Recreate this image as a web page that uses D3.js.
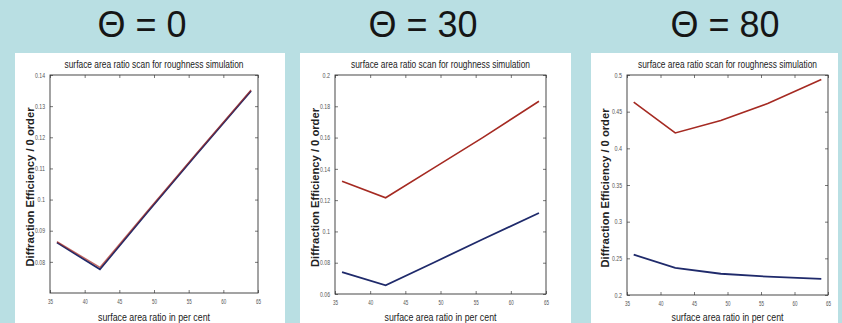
<!DOCTYPE html>
<html><head><meta charset="utf-8">
<script src="https://cdn.jsdelivr.net/npm/d3@7"></script>
<style>
html,body{margin:0;padding:0;background:#b9dfe3;}
svg{display:block;}
</style></head>
<body>
<svg id="c" width="842" height="323"></svg>
<script>
// ---- data ----
const headings = ["Θ = 0", "Θ = 30", "Θ = 80"];
const chartTitle = "surface area ratio scan for roughness simulation";
const xLabel = "surface area ratio in per cent";
const yLabel = "Diffraction Efficiency / 0 order";
const xValues = [36, 42.2, 49, 56, 64];
const xTicks = [35, 40, 45, 50, 55, 60, 65];

const red0 = [0.0865, 0.0782, 0.0962, 0.1145, 0.1352];
const blue0 = [0.0862, 0.0776, 0.0958, 0.1142, 0.1349];
const yTicks0 = [0.08, 0.09, 0.10, 0.11, 0.12, 0.13, 0.14];
const yDomain0 = [0.07, 0.14];

const red30 = [0.1320, 0.1215, 0.1405, 0.1600, 0.1832];
const blue30 = [0.0740, 0.0655, 0.0800, 0.0950, 0.1118];
const yTicks30 = [0.06, 0.08, 0.10, 0.12, 0.14, 0.16, 0.18, 0.20];
const yDomain30 = [0.06, 0.20];

const red80 = [0.463, 0.421, 0.438, 0.461, 0.494];
const blue80 = [0.255, 0.237, 0.229, 0.225, 0.222];
const yTicks80 = [0.20, 0.25, 0.30, 0.35, 0.40, 0.45, 0.50];
const yDomain80 = [0.20, 0.50];

const panels = [
  {head: headings[0], hx: 142, box:[15,53,285,323], plot:[50,75,258,293], labX:30,
   red: red0, blue: blue0, yt: yTicks0, yd: yDomain0, merged:true},
  {head: headings[1], hx: 423, box:[300,53,571,323], plot:[335,75,546,294], labX:315,
   red: red30, blue: blue30, yt: yTicks30, yd: yDomain30},
  {head: headings[2], hx: 725, box:[591,53,838,323], plot:[627,75,828,295], labX:605,
   red: red80, blue: blue80, yt: yTicks80, yd: yDomain80}
];

const svg = d3.select("#c");
const sans = "'Liberation Sans',Arial,sans-serif";
const fmt = v => String(+v.toFixed(3));

panels.forEach(p => {
  svg.append("text").attr("x", p.hx).attr("y", 37)
    .attr("text-anchor","middle").attr("font-family",sans)
    .attr("font-size", 36).attr("fill","#151515").text(p.head);

  svg.append("rect").attr("x",p.box[0]).attr("y",p.box[1])
    .attr("width",p.box[2]-p.box[0]).attr("height",p.box[3]-p.box[1]).attr("fill","#fff");

  const [l,t,r,b] = p.plot;
  const x = d3.scaleLinear().domain([35,65]).range([l,r]);
  const y = d3.scaleLinear().domain(p.yd).range([b,t]);

  const ax = (axis, tr) => {
    const gg = svg.append("g").attr("transform", tr).call(axis);
    gg.select(".domain").remove();
    gg.selectAll("line").attr("stroke","#555").attr("stroke-width",0.8);
    gg.selectAll("text").attr("font-family",sans).attr("font-size",7).attr("fill","#555")
      .each(function(){ const s=this.textContent; if(s) d3.select(this).attr("textLength", s.length*2.5).attr("lengthAdjust","spacingAndGlyphs"); });
    return gg;
  };
  ax(d3.axisBottom(x).tickValues(xTicks).tickSize(-3).tickPadding(6).tickFormat(d3.format("d")), `translate(0,${b})`);
  ax(d3.axisTop(x).tickValues(xTicks).tickSize(-3).tickFormat(""), `translate(0,${t})`);
  ax(d3.axisLeft(y).tickValues(p.yt).tickSize(-3).tickPadding(5).tickFormat(fmt), `translate(${l},0)`);
  ax(d3.axisRight(y).tickValues(p.yt).tickSize(-3).tickFormat(""), `translate(${r},0)`);

  svg.append("rect").attr("x",l).attr("y",t).attr("width",r-l).attr("height",b-t)
    .attr("fill","none").attr("stroke","#333").attr("stroke-width",0.9);

  const line = d3.line().x((d,i)=>x(xValues[i])).y(d=>y(d));
  svg.append("path").datum(p.blue).attr("d",line).attr("fill","none")
    .attr("stroke","#1f2a6b").attr("stroke-width",1.8);
  svg.append("path").datum(p.red).attr("d",line).attr("fill","none")
    .attr("stroke", "#a52a22").attr("stroke-width", p.merged ? 1.4 : 1.6)
    .attr("stroke-opacity", p.merged ? 0.7 : 1);

  svg.append("text").attr("transform",`translate(${(l+r)/2},68) scale(0.84,1)`).attr("text-anchor","middle")
    .attr("font-family",sans).attr("font-size",10).attr("fill","#222").text(chartTitle);
  svg.append("text").attr("transform",`translate(${(l+r)/2},321) scale(0.8,1)`).attr("text-anchor","middle")
    .attr("font-family",sans).attr("font-size",11).attr("fill","#222").text(xLabel);
  svg.append("text").attr("transform",`translate(${p.labX+4},${(t+b)/2+3}) rotate(-90)`)
    .attr("text-anchor","middle").attr("font-family",sans)
    .attr("font-weight","bold").attr("font-size",11).attr("fill","#222")
    .attr("textLength",159).attr("lengthAdjust","spacingAndGlyphs").text(yLabel);
});
</script>
</body></html>
